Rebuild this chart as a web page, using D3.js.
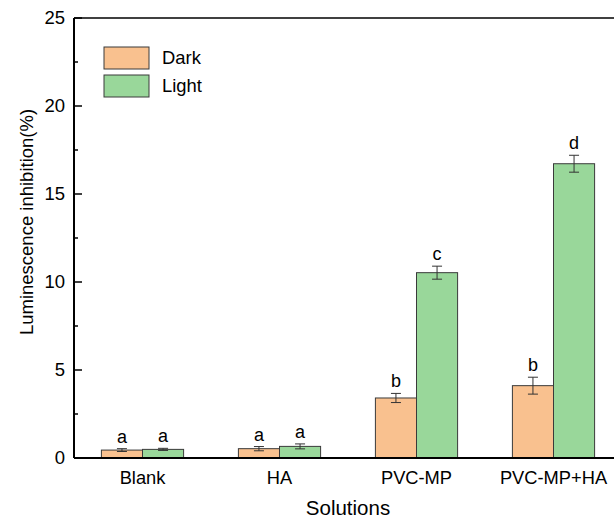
<!DOCTYPE html>
<html>
<head>
<meta charset="utf-8">
<script src="https://cdn.jsdelivr.net/npm/d3@7"></script>
<style>
  body { margin: 0; background: #fff; }
  svg { font-family: "Liberation Sans", Arial, sans-serif; }
</style>
</head>
<body>
<svg width="614" height="519"></svg>
<script>
// data
const solutions = ["Blank", "HA", "PVC-MP", "PVC-MP+HA"];
const series = ["Dark", "Light"];
const darkValues = [0.45, 0.53, 3.41, 4.11];
const lightValues = [0.49, 0.66, 10.53, 16.72];
const darkErrors = [0.08, 0.12, 0.26, 0.48];
const lightErrors = [0.06, 0.14, 0.37, 0.48];
const darkLetters = ["a", "a", "b", "b"];
const lightLetters = ["a", "a", "c", "d"];
const yTicks = [0, 5, 10, 15, 20, 25];

const colors = { Dark: "#f9c18f", Light: "#99d79a" };

const svg = d3.select("svg");
const margin = { left: 74, top: 18, right: -8, bottom: 61 };
const width = 614, height = 519;

const x = d3.scaleBand().domain(solutions).range([margin.left, width - margin.right]).paddingInner(0.4).paddingOuter(0.2);
const xSub = d3.scaleBand().domain(series).range([0, x.bandwidth()]);
const y = d3.scaleLinear().domain([0, 25]).range([height - margin.bottom, margin.top]);

const rows = solutions.map((s, i) => ({
    solution: s,
    bars: [
        { key: "Dark", value: darkValues[i], err: darkErrors[i], letter: darkLetters[i] },
        { key: "Light", value: lightValues[i], err: lightErrors[i], letter: lightLetters[i] }
    ]
}));

const groups = svg.selectAll(".group")
    .data(rows)
    .join("g")
    .attr("class", "group")
    .attr("transform", d => `translate(${x(d.solution)},0)`);

groups.selectAll("rect")
    .data(d => d.bars)
    .join("rect")
    .attr("x", d => xSub(d.key))
    .attr("y", d => y(d.value))
    .attr("width", xSub.bandwidth())
    .attr("height", d => y(0) - y(d.value))
    .attr("fill", d => colors[d.key])
    .attr("stroke", "#3a3a3a")
    .attr("stroke-width", 1);

// error bars
const err = groups.selectAll(".err")
    .data(d => d.bars)
    .join("g")
    .attr("class", "err")
    .attr("stroke", "#333")
    .attr("stroke-width", 1);
err.append("line")
    .attr("x1", d => xSub(d.key) + xSub.bandwidth() / 2)
    .attr("x2", d => xSub(d.key) + xSub.bandwidth() / 2)
    .attr("y1", d => y(d.value + d.err))
    .attr("y2", d => y(d.value - d.err));
[1, -1].forEach(s => {
    err.append("line")
        .attr("x1", d => xSub(d.key) + xSub.bandwidth() / 2 - 5)
        .attr("x2", d => xSub(d.key) + xSub.bandwidth() / 2 + 5)
        .attr("y1", d => y(d.value + s * d.err))
        .attr("y2", d => y(d.value + s * d.err));
});

groups.selectAll(".letter")
    .data(d => d.bars)
    .join("text")
    .attr("class", "letter")
    .attr("x", d => xSub(d.key) + xSub.bandwidth() / 2)
    .attr("y", d => y(d.value + d.err) - 6)
    .attr("text-anchor", "middle")
    .style("font-size", "18px")
    .text(d => d.letter);

// axes
svg.append("line")
    .attr("x1", margin.left).attr("x2", width)
    .attr("y1", y(0)).attr("y2", y(0))
    .attr("stroke", "#000").attr("stroke-width", 2);
svg.append("line")
    .attr("x1", margin.left).attr("x2", width)
    .attr("y1", y(25)).attr("y2", y(25))
    .attr("stroke", "#000").attr("stroke-width", 1.5);
svg.append("line")
    .attr("x1", margin.left).attr("x2", margin.left)
    .attr("y1", y(0)).attr("y2", y(25))
    .attr("stroke", "#000").attr("stroke-width", 2);

const minor = d3.range(2.5, 25, 5);
svg.selectAll(".minor")
    .data(minor)
    .join("line")
    .attr("x1", margin.left).attr("x2", margin.left + 4)
    .attr("y1", d => y(d)).attr("y2", d => y(d))
    .attr("stroke", "#000").attr("stroke-width", 1.5);
svg.selectAll(".major")
    .data(yTicks)
    .join("line")
    .attr("x1", margin.left).attr("x2", margin.left + 8)
    .attr("y1", d => y(d)).attr("y2", d => y(d))
    .attr("stroke", "#000").attr("stroke-width", 1.5);
svg.selectAll(".ytick")
    .data(yTicks)
    .join("text")
    .attr("x", margin.left - 9)
    .attr("y", d => y(d))
    .attr("dy", "0.35em")
    .attr("text-anchor", "end")
    .style("font-size", "18.5px")
    .text(d => d);

svg.selectAll(".xtick")
    .data(solutions)
    .join("text")
    .attr("x", d => x(d) + x.bandwidth() / 2)
    .attr("y", y(0) + 26)
    .attr("text-anchor", "middle")
    .style("font-size", "18.3px")
    .text(d => d);

svg.append("text")
    .attr("x", (margin.left + width - margin.right) / 2)
    .attr("y", 515)
    .attr("text-anchor", "middle")
    .style("font-size", "20.5px")
    .text("Solutions");

svg.append("text")
    .attr("transform", `translate(33,222) rotate(-90)`)
    .attr("text-anchor", "middle")
    .style("font-size", "18.5px")
    .text("Luminescence inhibition(%)");

// legend
const legend = svg.selectAll(".legend")
    .data(series)
    .join("g")
    .attr("class", "legend")
    .attr("transform", (d, i) => `translate(104,${47 + i * 28})`);
legend.append("rect")
    .attr("width", 45).attr("height", 22)
    .attr("fill", d => colors[d])
    .attr("stroke", "#3a3a3a");
legend.append("text")
    .attr("x", 58).attr("y", 11).attr("dy", "0.35em")
    .style("font-size", "18.4px")
    .text(d => d);
</script>
</body>
</html>
